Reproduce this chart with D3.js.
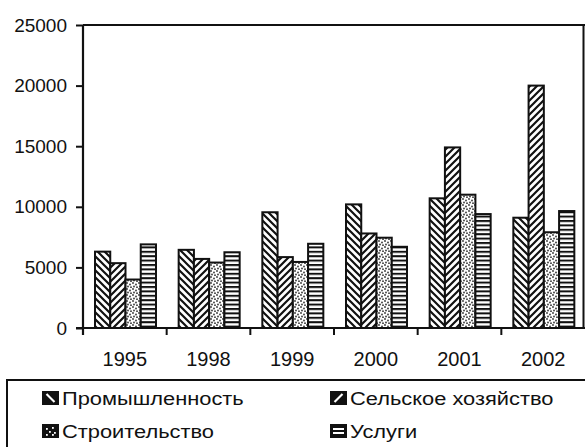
<!DOCTYPE html>
<html><head><meta charset="utf-8">
<script src="https://cdn.jsdelivr.net/npm/d3@7"></script>
<style>
html,body{margin:0;padding:0;background:#fff;}
svg{display:block;}
text{font-family:"Liberation Sans",Arial,Helvetica,sans-serif;fill:#111;}
</style></head><body>
<svg id="c" width="585" height="447"></svg>
<script>
const years = ["1995","1998","1999","2000","2001","2002"];
const seriesNames = ["Промышленность","Сельское хозяйство","Строительство","Услуги"];
const industry     = [6300, 6450, 9550, 10200, 10700, 9100];
const agriculture  = [5350, 5700, 5850, 7800, 14900, 20000];
const construction = [4000, 5400, 5450, 7450, 11000, 7900];
const services     = [6900, 6250, 6950, 6700, 9400, 9650];
const yTicks = [0, 5000, 10000, 15000, 20000, 25000];
const seriesValues = [industry, agriculture, construction, services];

(function(){
const svg = d3.select("#c");
const ink = "#111";
const defs = svg.append("defs");

// patterns
const p1 = defs.append("pattern").attr("id","p0").attr("patternUnits","userSpaceOnUse").attr("width",7).attr("height",7);
p1.append("rect").attr("width",7).attr("height",7).attr("fill","#fff");
p1.append("path").attr("d","M-1,-1 L8,8 M-8,-1 L1,8 M6,-1 L15,8").attr("stroke",ink).attr("stroke-width",2.2);
const p2 = defs.append("pattern").attr("id","p1").attr("patternUnits","userSpaceOnUse").attr("width",7).attr("height",7);
p2.append("rect").attr("width",7).attr("height",7).attr("fill","#fff");
p2.append("path").attr("d","M-1,8 L8,-1 M-8,8 L1,-1 M6,8 L15,-1").attr("stroke",ink).attr("stroke-width",2.2);
const p3 = defs.append("pattern").attr("id","p2").attr("patternUnits","userSpaceOnUse").attr("width",6).attr("height",6);
p3.append("rect").attr("width",6).attr("height",6).attr("fill","#fff");
[[1,1],[4,2.5],[2,4.5],[5,5.2]].forEach(([cx,cy])=>p3.append("circle").attr("cx",cx).attr("cy",cy).attr("r",0.9).attr("fill","#333"));
const p4 = defs.append("pattern").attr("id","p3").attr("patternUnits","userSpaceOnUse").attr("width",6).attr("height",4.4);
p4.append("rect").attr("width",6).attr("height",4.4).attr("fill","#fff");
p4.append("rect").attr("y",0).attr("width",6).attr("height",2).attr("fill",ink);

const L = 83, R = 585, T = 25, B = 328;
const x0 = d3.scaleBand().domain(years).range([L, R]).padding(0);
const x1 = d3.scaleBand().domain(d3.range(4)).range([12, 73]).padding(0);
const y = d3.scaleLinear().domain([0, 25000]).range([B, T]);

// frame top & right
svg.append("line").attr("x1",L).attr("x2",R).attr("y1",T).attr("y2",T).attr("stroke",ink).attr("stroke-width",2);
svg.append("line").attr("x1",R-1.5).attr("x2",R-1.5).attr("y1",T).attr("y2",B).attr("stroke",ink).attr("stroke-width",2);

// bars
const g = svg.append("g");
years.forEach((yr, i) => {
  seriesValues.forEach((vals, s) => {
    g.append("rect")
      .attr("x", x0(yr) + x1(s))
      .attr("y", y(vals[i]))
      .attr("width", x1.bandwidth())
      .attr("height", y(0) - y(vals[i]))
      .attr("fill", `url(#p${s})`)
      .attr("stroke", ink).attr("stroke-width", 2);
  });
});

// y axis
const ya = svg.append("g").attr("transform",`translate(${L},0)`)
  .call(d3.axisLeft(y).tickValues(yTicks).tickSize(7).tickPadding(9).tickFormat(d3.format("d")));
ya.select(".domain").attr("stroke",ink).attr("stroke-width",2.2).attr("d",`M0,${T}V${B+7}`);
ya.selectAll(".tick line").attr("stroke",ink).attr("stroke-width",2);
ya.selectAll(".tick text").attr("font-size",19).attr("fill",ink).attr("font-family","Liberation Sans, Arial, sans-serif");

// x axis
const xa = svg.append("g").attr("transform",`translate(0,${B})`)
  .call(d3.axisBottom(x0).tickSize(0).tickPadding(24));
xa.select(".domain").attr("stroke",ink).attr("stroke-width",2.2).attr("d",`M${L-7},0H${R}`);
xa.selectAll(".tick text").attr("font-size",20).attr("fill",ink).attr("font-family","Liberation Sans, Arial, sans-serif");
years.slice(1).forEach(yr => {
  svg.append("line").attr("x1",x0(yr)).attr("x2",x0(yr)).attr("y1",B).attr("y2",B+7).attr("stroke",ink).attr("stroke-width",2);
});

// legend
const lg = svg.append("g");
lg.append("rect").attr("x",7).attr("y",380).attr("width",590).attr("height",80).attr("fill","none").attr("stroke",ink).attr("stroke-width",2);
const legPos = [[42,405],[330,405],[42,438],[330,438]];
seriesNames.forEach((name, s) => {
  const [lx, ly] = legPos[s];
  const ig = lg.append("g").attr("transform",`translate(${lx},${ly-14})`);
  ig.append("rect").attr("width",17).attr("height",14).attr("fill",ink);
  if (s === 0) ig.append("path").attr("d","M4.5,3 L12.5,11").attr("stroke","#fff").attr("stroke-width",2.2);
  if (s === 1) ig.append("path").attr("d","M4.5,11 L12.5,3").attr("stroke","#fff").attr("stroke-width",2.2);
  if (s === 2) [[4,4],[10,3],[7,7],[12,8],[4,10],[10,10]].forEach(([a,b])=>ig.append("rect").attr("x",a).attr("y",b).attr("width",1.8).attr("height",1.8).attr("fill","#fff"));
  if (s === 3) ig.append("path").attr("d","M3,5 H14 M3,9 H14").attr("stroke","#fff").attr("stroke-width",1.8);
  lg.append("text").attr("transform",`translate(${lx+20},${ly}) scale(1.15,1)`).attr("font-size",19).text(name);
});
})();
</script></body></html>
